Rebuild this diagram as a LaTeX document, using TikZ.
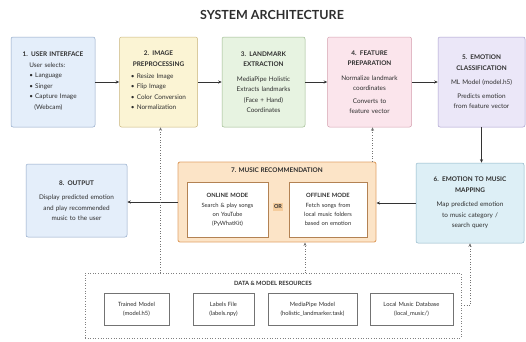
\documentclass[tikz,border=0pt]{standalone}
\usepackage{fontspec}
\setmainfont{Lato}
\usepackage{tikz}
\usetikzlibrary{arrows.meta,positioning}

\definecolor{ink}{HTML}{2E2E2E}
\definecolor{uiF}{HTML}{E4EEFA}\definecolor{uiD}{HTML}{8FA6C6}
\definecolor{prF}{HTML}{FBF4D4}\definecolor{prD}{HTML}{C8B47C}
\definecolor{lmF}{HTML}{E7F3E1}\definecolor{lmD}{HTML}{9CBA8D}
\definecolor{ftF}{HTML}{FBE5EC}\definecolor{ftD}{HTML}{D49FAE}
\definecolor{emF}{HTML}{EBE7F8}\definecolor{emD}{HTML}{A79DCD}
\definecolor{mpF}{HTML}{DDEFF6}\definecolor{mpD}{HTML}{8DB4C6}
\definecolor{muF}{HTML}{FCE4C7}\definecolor{muD}{HTML}{E0A268}
\definecolor{orF}{HTML}{F5CC9C}

\begin{document}
\begin{tikzpicture}[
  x=1pt,y=-1pt,
  font=\fontsize{6.4}{10.5}\selectfont,text=ink,
  stage/.style={draw,rounded corners=2pt,line width=0.5pt,minimum height=90pt,
                inner sep=4pt,align=center},
  music/.style={draw=muD,fill=muF,rounded corners=2pt,line width=0.9pt,
                minimum width=198pt,minimum height=80pt},
  mode/.style={draw=muD!80!black,fill=white,line width=0.5pt,minimum height=55pt,
               inner sep=3pt,align=center,font=\fontsize{5.8}{9}\selectfont},
  ortag/.style={fill=orF,inner sep=1.5pt,font=\fontsize{5.5}{6}\selectfont\bfseries},
  resbox/.style={draw=black!50,dotted,line width=0.6pt,minimum width=376pt,
                 minimum height=65pt},
  item/.style={draw=black!55,fill=white,line width=0.5pt,minimum height=32pt,
               inner sep=3pt,align=center,font=\fontsize{5.8}{9}\selectfont},
  arr/.style={-{Stealth[length=3.5pt,width=3pt]},draw=black!80,line width=0.6pt},
  dep/.style={-{Stealth[length=3.5pt,width=3pt]},draw=black!55,dotted,line width=0.6pt}
]
\useasboundingbox (0,0) rectangle (526,341);

\node[font=\fontsize{12.5}{14}\selectfont\bfseries] (title) at (272,15) {SYSTEM ARCHITECTURE};

% top row
\node[stage,fill=uiF,draw=uiD,text width=76pt] (ui) at (53,82)
  {\textbf{1. USER INTERFACE}\\[3pt]
   \begin{tabular}{@{}l@{}}User selects:\\• Language\\• Singer\\• Capture Image\\
   \hspace*{5pt}(Webcam)\end{tabular}};
\node[stage,fill=prF,draw=prD,text width=70pt,right=24pt of ui] (prep)
  {\textbf{2. IMAGE}\\\textbf{PREPROCESSING}\\[4pt]
   \begin{tabular}{@{}l@{}}• Resize Image\\• Flip Image\\• Color Conversion\\
   • Normalization\end{tabular}};
\node[stage,fill=lmF,draw=lmD,text width=75pt,right=24pt of prep] (land)
  {\textbf{3. LANDMARK}\\\textbf{EXTRACTION}\\[4pt]
   MediaPipe Holistic\\Extracts landmarks\\(Face + Hand)\\Coordinates};
\node[stage,fill=ftF,draw=ftD,text width=76pt,right=22pt of land] (feat)
  {\textbf{4. FEATURE}\\\textbf{PREPARATION}\\[4pt]
   Normalize landmark\\coordinates\\[2pt]Converts to\\feature vector};
\node[stage,fill=emF,draw=emD,text width=79pt,right=26pt of feat] (emo)
  {\textbf{5. EMOTION}\\\textbf{CLASSIFICATION}\\[4pt]
   ML Model (model.h5)\\[3pt]Predicts emotion\\from feature vector};

% middle row
\node[stage,fill=mpF,draw=mpD,text width=100pt,minimum height=80pt] (map) at (470,203)
  {\textbf{6. EMOTION TO MUSIC}\\\textbf{MAPPING}\\[4pt]
   Map predicted emotion\\to music category /\\search query};
\node[music] (rec) at (277,202) {};
\node[font=\fontsize{6.4}{7}\selectfont\bfseries] (rectitle) at (277,170) {7. MUSIC RECOMMENDATION};
\node[mode,text width=75pt] (online) at (227.5,209.5)
  {\textbf{ONLINE MODE}\\[1pt]Search \& play songs\\on YouTube\\(PyWhatKit)};
\node[mode,text width=72pt] (offline) at (328,209.5)
  {\textbf{OFFLINE MODE}\\[1pt]Fetch songs from\\local music folders\\based on emotion};
\node[ortag] (or) at (278,207) {OR};
\node[stage,fill=uiF,draw=uiD,text width=93pt,minimum height=73pt] (out) at (76.5,200.5)
  {\textbf{8. OUTPUT}\\[4pt]
   Display predicted emotion\\and play recommended\\music to the user};

% resources
\node[resbox] (res) at (273,305.5) {};
\node[font=\fontsize{5.8}{6}\selectfont\bfseries] (restitle) at (273,283) {DATA \& MODEL RESOURCES};
\node[item,text width=59pt] (mdl) at (136.5,309) {Trained Model\\(model.h5)};
\node[item,text width=55pt] (lbl) at (223.5,309) {Labels File\\(labels.npy)};
\node[item,text width=83pt] (mp)  at (312.5,309) {MediaPipe Model\\(holistic\_landmarker.task)};
\node[item,text width=77pt] (db)  at (411.5,309) {Local Music Database\\(local\_music/)};

% flow
\draw[arr] (ui) -- (prep);
\draw[arr] (prep) -- (land);
\draw[arr] (land) -- (feat);
\draw[arr] (feat) -- (emo);
\draw[arr] (emo.south) -- (emo.south |- map.north);
\draw[arr] (map.west) -- (map.west -| rec.east);
\draw[arr] (rec.west) -- (rec.west -| out.east);

% resource links
\draw[dep] ([xshift=2pt]prep.south |- res.north) -- ([xshift=2pt]prep.south);
\draw[dep] ([xshift=28pt]rec.south |- res.north) -- ([xshift=28pt]rec.south);
\draw[dep] (res.east) -| (map.south);
\draw[dep] ([xshift=3pt]feat.south |- rec.north) -- ([xshift=3pt]feat.south);
\end{tikzpicture}
\end{document}
